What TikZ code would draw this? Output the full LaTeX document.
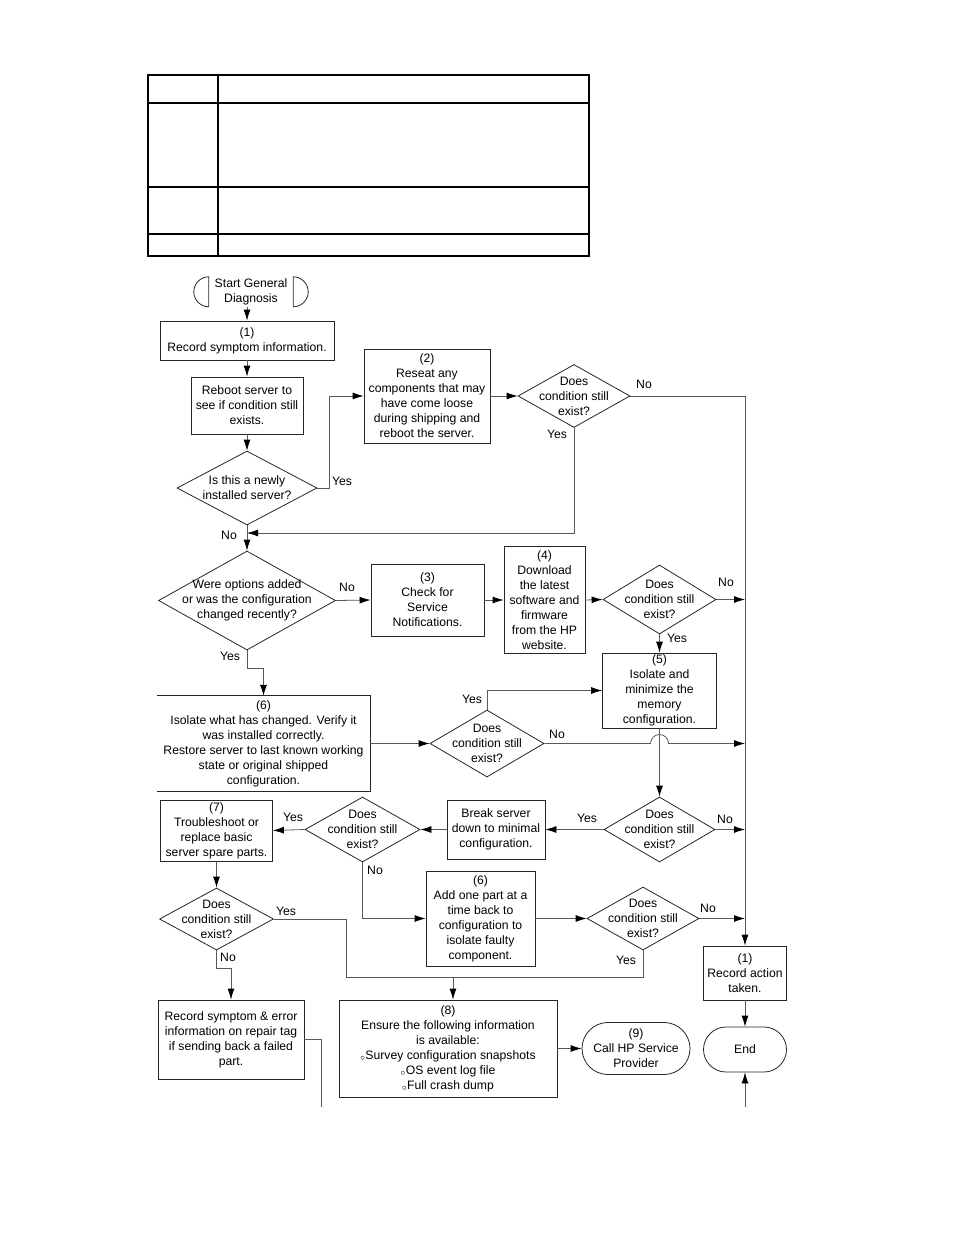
\documentclass[tikz,border=0pt]{standalone}
\usepackage{fontspec}
\setmainfont{Liberation Sans}
\usetikzlibrary{arrows.meta,shapes,calc}
\tikzstyle{block}=[rectangle,draw=black!85,line width=0.8pt,align=center,inner sep=0pt]
\tikzstyle{openblock}=[rectangle,align=center,inner sep=0pt]
\tikzstyle{decision}=[diamond,draw=black!85,line width=0.8pt,inner sep=0pt]
\tikzstyle{terminal}=[rounded rectangle,draw=black!85,line width=0.8pt,align=center,inner sep=0pt]
\tikzstyle{dtext}=[align=center,inner sep=0pt]
\tikzstyle{outline}=[draw,line width=0.8pt,black!85]
\tikzstyle{edge}=[draw,line width=0.8pt,black!65,-{Latex[length=11pt,width=7pt,color=black]}]
\tikzstyle{plainedge}=[draw,line width=0.8pt,black!65]
\tikzstyle{answer}=[inner sep=0pt]
\tikzstyle{tableline}=[draw,line width=2pt]

\begin{document}
\begin{tikzpicture}[x=1pt,y=-1pt,font=\fontsize{12.2}{15}\selectfont]
    \useasboundingbox (0,0) rectangle (954,1235);

    % Empty table at the top
    \draw[tableline] (148,75) rectangle (589,256);
    \draw[tableline] (218,75) -- (218,256);
    \foreach \y in {103,187,234}
        \draw[tableline] (148,\y) -- (589,\y);

    % Start terminal
    \node[dtext,minimum width=84pt,minimum height=30pt] (start) at (251,292) {Start General\\Diagnosis};
    \draw[outline] (start.north west) arc (90:270:15pt) -- (start.north west);
    \draw[outline] (start.north east) arc (90:-90:15pt) -- (start.north east);

    % Process boxes
    \foreach \pos/ \name/ \w/ \h/ \txt in {
        {(247,340.5)/b1/174/39/{(1)\\Record symptom information.}},
        {(247,405.5)/reboot/112/57/{Reboot server to\\see if condition still\\exists.}},
        {(427,396)/b2/126/94/{(2)\\Reseat any\\components that may\\have come loose\\during shipping and\\reboot the server.}},
        {(427.5,600)/b3/113/72/{(3)\\Check for\\Service\\Notifications.}},
        {(544.5,600)/b4/81/107/{(4)\\Download\\the latest\\software and\\firmware\\from the HP\\website.}},
        {(659.5,690.5)/b5/114/75/{(5)\\Isolate and\\minimize the\\memory\\configuration.}},
        {(496,829.5)/brk/98/59/{Break server\\down to minimal\\configuration.}},
        {(216.5,830.5)/b7/112/61/{(7)\\Troubleshoot or\\replace basic\\server spare parts.}},
        {(480.5,918.5)/b6b/109/95/{(6)\\Add one part at a\\time back to\\configuration to\\isolate faulty\\component.}},
        {(745,973)/rec/83/54/{(1)\\Record action\\taken.}},
        {(231,1039.5)/b9/146/79/{Record symptom \& error\\information on repair tag\\if sending back a failed\\part.}},
        {(448,1048.5)/b8/218/97/{(8)\\Ensure the following information\\is available:\\{$_\circ$}Survey configuration snapshots\\{$_\circ$}OS event log file\\{$_\circ$}Full crash dump}}}
        \node[block,minimum width=\w pt,minimum height=\h pt] (\name) at \pos {\txt};

    % Box (6) has no left side
    \node[openblock,minimum width=213pt,minimum height=95pt] (b6) at (263.5,743.5) {(6)\\Isolate what has changed. Verify it\\was installed correctly.\\Restore server to last known working\\state or original shipped\\configuration.};
    \draw[outline] (b6.north west) -- (b6.north east) -- (b6.south east) -- (b6.south west);

    % End terminals
    \node[terminal,minimum width=108pt,minimum height=52pt] (call) at (636,1048.5) {(9)\\Call HP Service\\Provider};
    \node[terminal,minimum width=83pt,minimum height=45pt] (end) at (745,1049.5) {End};

    % Decisions
    \node[decision,minimum width=140pt,minimum height=74pt] (d1) at (247,488) {};
    \node[dtext] (d1t) at (d1) {Is this a newly\\installed server?};
    \node[decision,minimum width=177pt,minimum height=99pt] (d3) at (247,600.5) {};
    \node[dtext] (d3t) at (d3) {Were options added\\or was the configuration\\changed recently?};
    \foreach \pos/ \name/ \w/ \h in {{(574,396)/d2/112/63},{(659.5,599.5)/d4/113/69},{(487,743.5)/d5/114/67},
        {(659.5,829.5)/d6/111/65},{(362.5,829.5)/d7/115/65},{(216.5,919)/d8/114/62},{(643,918.5)/d9/112/63}} {
        \node[decision,minimum width=\w pt,minimum height=\h pt] (\name) at \pos {};
        \node[dtext] (\name t) at (\name) {Does\\condition still\\exist?};
    }

    % Junction points
    \coordinate (bus) at (745,396);
    \coordinate (m1) at (247,533);
    \coordinate (c1) at (346,977);
    \coordinate (j8) at (453,977);
    \coordinate (c2) at (321,1107);
    \coordinate (endin) at (745,1107);

    % Connectors
    \path[edge] (b1.north |- start.south) -- (b1.north);
    \path[edge] (b1.south) -- (reboot.north);
    \path[edge] (reboot.south) -- (d1.north);
    \path[edge] (d1.east) -- ++(12,0) |- (b2.west);
    \path[edge] (b2.east) -- (d2.west);
    \path[edge] (d2.east) -- (bus) -- (rec.north);
    \path[edge] (d2.south) |- (m1);
    \path[edge] (d1.south) -- (d3.north);
    \path[edge] (d3.east) -- (b3.west);
    \path[edge] (b3.east) -- (b4.west);
    \path[edge] (b4.east) -- (d4.west);
    \path[edge] (d4.east) -- (d4.east -| bus);
    \path[edge] (d4.south) -- (b5.north);
    \path[edge] (d3.south) -- ++(0,18) -| (b6.north);
    \path[edge] (b6.east) -- (d5.west);
    \path[edge] (d5.north) |- (b5.west);
    \path[edge] (d5.east) -- ($(b5.south |- d5.east)+(-9,0)$) arc (180:0:9pt) -- (d5.east -| bus);
    \path[edge] (b5.south) -- (d6.north);
    \path[edge] (d6.east) -- (d6.east -| bus);
    \path[edge] (d6.west) -- (brk.east);
    \path[edge] (brk.west) -- (d7.east);
    \path[edge] (d7.west) -- (b7.east);
    \path[edge] (d7.south) |- (b6b.west);
    \path[edge] (b6b.east) -- (d9.west);
    \path[edge] (d9.east) -- (d9.east -| bus);
    \path[edge] (b7.south) -- (d8.north);
    \path[edge] (d8.south) -- ++(0,18) -| (b9.north);
    \path[plainedge] (d8.east) -| (c1) -- (c1 -| d9.south) -- (d9.south);
    \path[edge] (j8) -- (j8 |- b8.north);
    \path[edge] (b8.east) -- (call.west);
    \path[edge] (rec.south) -- (end.north);
    \path[edge] (endin) -- (end.south);
    \path[plainedge] (b9.east) -| (c2);

    % Yes / No labels
    \foreach \pos/ \name/ \txt in {{(342,481)/y1/Yes},{(229,535)/n1/No},{(644,384)/n2/No},{(557,434)/y2/Yes},
        {(347,587)/n3/No},{(230,656)/y3/Yes},{(726,582)/n4/No},{(677,638)/y4/Yes},
        {(472,699)/y5/Yes},{(557,734)/n5/No},{(725,819)/n6/No},{(587,818)/y6/Yes},
        {(293,817)/y7/Yes},{(375,870)/n7/No},{(286,911)/y8/Yes},{(228,957)/n8/No},
        {(708,908)/n9/No},{(626,960)/y9/Yes}}
        \node[answer] (\name) at \pos {\txt};

\end{tikzpicture}
\end{document}
